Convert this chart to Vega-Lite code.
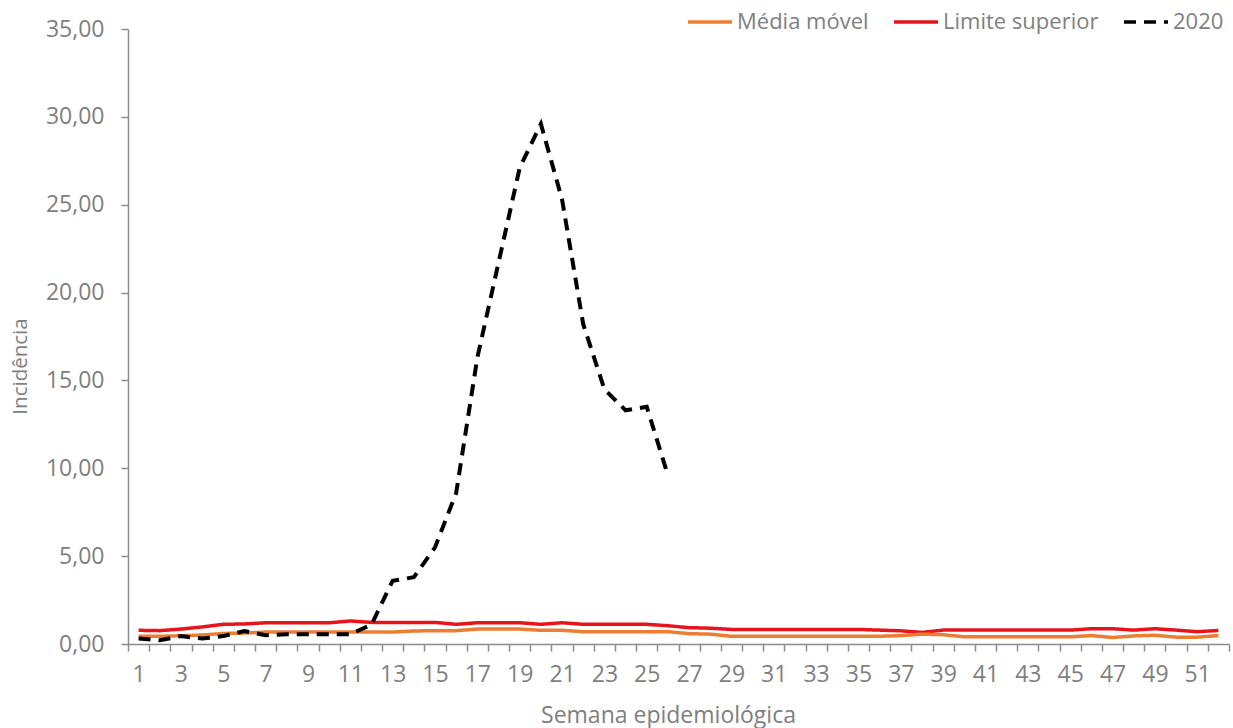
{
  "$schema": "https://vega.github.io/schema/vega-lite/v6.json",
  "width": 1101,
  "height": 615,
  "autosize": "none",
  "padding": {"left": 128, "top": 29, "right": 4, "bottom": 84},
  "background": "white",
  "config": {
    "view": {"stroke": null},
    "font": "Open Sans",
    "axis": {
      "labelFont": "Open Sans",
      "titleFont": "Open Sans",
      "labelFontSize": 23,
      "titleFontSize": 23,
      "labelColor": "#7F7F7F",
      "titleColor": "#7F7F7F",
      "titleFontWeight": "normal",
      "domainColor": "#8C8C8C",
      "tickColor": "#8C8C8C",
      "domainWidth": 1.5,
      "tickWidth": 1.5,
      "tickSize": 7,
      "grid": false
    },
    "legend": {
      "labelFont": "Open Sans",
      "labelFontSize": 22,
      "labelColor": "#7F7F7F",
      "labelLimit": 300,
      "symbolType": "stroke",
      "symbolSize": 1936,
      "symbolStrokeWidth": 3.5,
      "labelOffset": 3,
      "columnPadding": 18
    }
  },
  "data": {
    "values": [
      {"semana": 1, "serie": "Média móvel", "valor": 0.44},
      {"semana": 2, "serie": "Média móvel", "valor": 0.44},
      {"semana": 3, "serie": "Média móvel", "valor": 0.47},
      {"semana": 4, "serie": "Média móvel", "valor": 0.51},
      {"semana": 5, "serie": "Média móvel", "valor": 0.6},
      {"semana": 6, "serie": "Média móvel", "valor": 0.62},
      {"semana": 7, "serie": "Média móvel", "valor": 0.68},
      {"semana": 8, "serie": "Média móvel", "valor": 0.68},
      {"semana": 9, "serie": "Média móvel", "valor": 0.68},
      {"semana": 10, "serie": "Média móvel", "valor": 0.68},
      {"semana": 11, "serie": "Média móvel", "valor": 0.68},
      {"semana": 12, "serie": "Média móvel", "valor": 0.68},
      {"semana": 13, "serie": "Média móvel", "valor": 0.68},
      {"semana": 14, "serie": "Média móvel", "valor": 0.74},
      {"semana": 15, "serie": "Média móvel", "valor": 0.76},
      {"semana": 16, "serie": "Média móvel", "valor": 0.76},
      {"semana": 17, "serie": "Média móvel", "valor": 0.85},
      {"semana": 18, "serie": "Média móvel", "valor": 0.85},
      {"semana": 19, "serie": "Média móvel", "valor": 0.85},
      {"semana": 20, "serie": "Média móvel", "valor": 0.78},
      {"semana": 21, "serie": "Média móvel", "valor": 0.78},
      {"semana": 22, "serie": "Média móvel", "valor": 0.7},
      {"semana": 23, "serie": "Média móvel", "valor": 0.7},
      {"semana": 24, "serie": "Média móvel", "valor": 0.7},
      {"semana": 25, "serie": "Média móvel", "valor": 0.7},
      {"semana": 26, "serie": "Média móvel", "valor": 0.7},
      {"semana": 27, "serie": "Média móvel", "valor": 0.59},
      {"semana": 28, "serie": "Média móvel", "valor": 0.56},
      {"semana": 29, "serie": "Média móvel", "valor": 0.44},
      {"semana": 30, "serie": "Média móvel", "valor": 0.44},
      {"semana": 31, "serie": "Média móvel", "valor": 0.44},
      {"semana": 32, "serie": "Média móvel", "valor": 0.44},
      {"semana": 33, "serie": "Média móvel", "valor": 0.44},
      {"semana": 34, "serie": "Média móvel", "valor": 0.44},
      {"semana": 35, "serie": "Média móvel", "valor": 0.44},
      {"semana": 36, "serie": "Média móvel", "valor": 0.44},
      {"semana": 37, "serie": "Média móvel", "valor": 0.48},
      {"semana": 38, "serie": "Média móvel", "valor": 0.56},
      {"semana": 39, "serie": "Média móvel", "valor": 0.53},
      {"semana": 40, "serie": "Média móvel", "valor": 0.41},
      {"semana": 41, "serie": "Média móvel", "valor": 0.41},
      {"semana": 42, "serie": "Média móvel", "valor": 0.41},
      {"semana": 43, "serie": "Média móvel", "valor": 0.41},
      {"semana": 44, "serie": "Média móvel", "valor": 0.41},
      {"semana": 45, "serie": "Média móvel", "valor": 0.41},
      {"semana": 46, "serie": "Média móvel", "valor": 0.48},
      {"semana": 47, "serie": "Média móvel", "valor": 0.37},
      {"semana": 48, "serie": "Média móvel", "valor": 0.46},
      {"semana": 49, "serie": "Média móvel", "valor": 0.5},
      {"semana": 50, "serie": "Média móvel", "valor": 0.39},
      {"semana": 51, "serie": "Média móvel", "valor": 0.39},
      {"semana": 52, "serie": "Média móvel", "valor": 0.48},
      {"semana": 1, "serie": "Limite superior", "valor": 0.78},
      {"semana": 2, "serie": "Limite superior", "valor": 0.76},
      {"semana": 3, "serie": "Limite superior", "valor": 0.85},
      {"semana": 4, "serie": "Limite superior", "valor": 0.97},
      {"semana": 5, "serie": "Limite superior", "valor": 1.12},
      {"semana": 6, "serie": "Limite superior", "valor": 1.14},
      {"semana": 7, "serie": "Limite superior", "valor": 1.21},
      {"semana": 8, "serie": "Limite superior", "valor": 1.21},
      {"semana": 9, "serie": "Limite superior", "valor": 1.21},
      {"semana": 10, "serie": "Limite superior", "valor": 1.21},
      {"semana": 11, "serie": "Limite superior", "valor": 1.31},
      {"semana": 12, "serie": "Limite superior", "valor": 1.23},
      {"semana": 13, "serie": "Limite superior", "valor": 1.23},
      {"semana": 14, "serie": "Limite superior", "valor": 1.23},
      {"semana": 15, "serie": "Limite superior", "valor": 1.23},
      {"semana": 16, "serie": "Limite superior", "valor": 1.12},
      {"semana": 17, "serie": "Limite superior", "valor": 1.21},
      {"semana": 18, "serie": "Limite superior", "valor": 1.21},
      {"semana": 19, "serie": "Limite superior", "valor": 1.21},
      {"semana": 20, "serie": "Limite superior", "valor": 1.12},
      {"semana": 21, "serie": "Limite superior", "valor": 1.21},
      {"semana": 22, "serie": "Limite superior", "valor": 1.12},
      {"semana": 23, "serie": "Limite superior", "valor": 1.12},
      {"semana": 24, "serie": "Limite superior", "valor": 1.12},
      {"semana": 25, "serie": "Limite superior", "valor": 1.12},
      {"semana": 26, "serie": "Limite superior", "valor": 1.04},
      {"semana": 27, "serie": "Limite superior", "valor": 0.93},
      {"semana": 28, "serie": "Limite superior", "valor": 0.9},
      {"semana": 29, "serie": "Limite superior", "valor": 0.83},
      {"semana": 30, "serie": "Limite superior", "valor": 0.83},
      {"semana": 31, "serie": "Limite superior", "valor": 0.83},
      {"semana": 32, "serie": "Limite superior", "valor": 0.83},
      {"semana": 33, "serie": "Limite superior", "valor": 0.83},
      {"semana": 34, "serie": "Limite superior", "valor": 0.83},
      {"semana": 35, "serie": "Limite superior", "valor": 0.83},
      {"semana": 36, "serie": "Limite superior", "valor": 0.79},
      {"semana": 37, "serie": "Limite superior", "valor": 0.75},
      {"semana": 38, "serie": "Limite superior", "valor": 0.66},
      {"semana": 39, "serie": "Limite superior", "valor": 0.79},
      {"semana": 40, "serie": "Limite superior", "valor": 0.79},
      {"semana": 41, "serie": "Limite superior", "valor": 0.79},
      {"semana": 42, "serie": "Limite superior", "valor": 0.79},
      {"semana": 43, "serie": "Limite superior", "valor": 0.79},
      {"semana": 44, "serie": "Limite superior", "valor": 0.79},
      {"semana": 45, "serie": "Limite superior", "valor": 0.79},
      {"semana": 46, "serie": "Limite superior", "valor": 0.87},
      {"semana": 47, "serie": "Limite superior", "valor": 0.87},
      {"semana": 48, "serie": "Limite superior", "valor": 0.79},
      {"semana": 49, "serie": "Limite superior", "valor": 0.87},
      {"semana": 50, "serie": "Limite superior", "valor": 0.79},
      {"semana": 51, "serie": "Limite superior", "valor": 0.7},
      {"semana": 52, "serie": "Limite superior", "valor": 0.77},
      {"semana": 1, "serie": "2020", "valor": 0.31},
      {"semana": 2, "serie": "2020", "valor": 0.21},
      {"semana": 3, "serie": "2020", "valor": 0.45},
      {"semana": 4, "serie": "2020", "valor": 0.31},
      {"semana": 5, "serie": "2020", "valor": 0.45},
      {"semana": 6, "serie": "2020", "valor": 0.74},
      {"semana": 7, "serie": "2020", "valor": 0.5},
      {"semana": 8, "serie": "2020", "valor": 0.56},
      {"semana": 9, "serie": "2020", "valor": 0.56},
      {"semana": 10, "serie": "2020", "valor": 0.56},
      {"semana": 11, "serie": "2020", "valor": 0.56},
      {"semana": 12, "serie": "2020", "valor": 1.1},
      {"semana": 13, "serie": "2020", "valor": 3.6},
      {"semana": 14, "serie": "2020", "valor": 3.8},
      {"semana": 15, "serie": "2020", "valor": 5.5},
      {"semana": 16, "serie": "2020", "valor": 8.6},
      {"semana": 17, "serie": "2020", "valor": 16.3},
      {"semana": 18, "serie": "2020", "valor": 21.7},
      {"semana": 19, "serie": "2020", "valor": 27.1},
      {"semana": 20, "serie": "2020", "valor": 29.6},
      {"semana": 21, "serie": "2020", "valor": 25.3},
      {"semana": 22, "serie": "2020", "valor": 18.2},
      {"semana": 23, "serie": "2020", "valor": 14.5},
      {"semana": 24, "serie": "2020", "valor": 13.3},
      {"semana": 25, "serie": "2020", "valor": 13.5},
      {"semana": 26, "serie": "2020", "valor": 9.6}
    ]
  },
  "encoding": {
    "x": {
      "field": "semana",
      "type": "quantitative",
      "title": "Semana epidemiológica",
      "scale": {"domain": [0.5, 52.5], "nice": false, "zero": false},
      "axis": {
        "values": [0.5, 1.5, 2.5, 3.5, 4.5, 5.5, 6.5, 7.5, 8.5, 9.5, 10.5, 11.5, 12.5, 13.5, 14.5, 15.5, 16.5, 17.5, 18.5, 19.5, 20.5, 21.5, 22.5, 23.5, 24.5, 25.5, 26.5, 27.5, 28.5, 29.5, 30.5, 31.5, 32.5, 33.5, 34.5, 35.5, 36.5, 37.5, 38.5, 39.5, 40.5, 41.5, 42.5, 43.5, 44.5, 45.5, 46.5, 47.5, 48.5, 49.5, 50.5, 51.5, 52.5],
        "labelExpr": "((datum.value - 0.5) % 2 == 1) ? format(datum.value - 0.5, 'd') : ''",
        "labelOffset": -10.59,
        "labelOverlap": false,
        "labelBound": false,
        "labelFlush": false,
        "labelPadding": 12,
        "titleX": 540,
        "titleY": 78,
        "titleBaseline": "alphabetic"
      }
    },
    "y": {
      "field": "valor",
      "type": "quantitative",
      "title": "Incidência",
      "scale": {"domain": [0, 35], "nice": false},
      "axis": {
        "values": [0, 5, 10, 15, 20, 25, 30, 35],
        "labelExpr": "replace(format(datum.value, '.2f'), '.', ',')",
        "labelPadding": 17,
        "titleFontSize": 20.5,
        "titleX": -108,
        "titleY": 337,
        "titleBaseline": "middle"
      }
    },
    "color": {
      "field": "serie",
      "type": "nominal",
      "title": null,
      "scale": {
        "domain": ["Média móvel", "Limite superior", "2020"],
        "range": ["#ED7D31", "#E8141C", "#000000"]
      },
      "legend": {"orient": "none", "direction": "horizontal", "legendX": 558, "legendY": -31}
    },
    "strokeDash": {
      "field": "serie",
      "type": "nominal",
      "title": null,
      "scale": {
        "domain": ["Média móvel", "Limite superior", "2020"],
        "range": [[1, 0], [1, 0], [12, 8]]
      },
      "legend": {"orient": "none", "direction": "horizontal", "legendX": 558, "legendY": -31}
    }
  },
  "layer": [
    {
      "transform": [{"filter": "datum.serie === 'Limite superior'"}],
      "mark": {"type": "line", "strokeWidth": 3.5}
    },
    {
      "transform": [{"filter": "datum.serie === 'Média móvel'"}],
      "mark": {"type": "line", "strokeWidth": 3.5}
    },
    {
      "transform": [{"filter": "datum.serie === '2020'"}],
      "mark": {"type": "line", "strokeWidth": 4}
    }
  ]
}
